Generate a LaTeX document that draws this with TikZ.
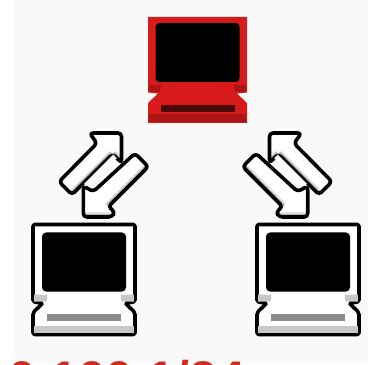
\documentclass[tikz,border=0pt]{standalone}
\usepackage{fontspec}
\setmainfont{Liberation Sans}
\definecolor{pagebg}{HTML}{F9F9F9}
\definecolor{srvred}{HTML}{D71A1A}
\definecolor{srvdark}{HTML}{AD1515}
\definecolor{srvslot}{HTML}{4A0808}
\definecolor{hostshade}{HTML}{C8C8C8}
\definecolor{hostslot}{HTML}{8C8C8C}
\definecolor{arrowshade}{HTML}{B4B4B4}
\definecolor{arrowsoft}{HTML}{E2E2E2}
\definecolor{labelred}{HTML}{D2291C}
\tikzset{
  outline/.style={draw=black,line width=3.6pt,line join=round,rounded corners=2pt},
  plain/.style={rounded corners=0pt},
  screen/.style={fill=black,rounded corners=4pt},
  arrowedge/.style={draw=black,line width=3.6pt,line join=round,rounded corners=3.5pt},
  softband/.style={draw=arrowsoft,line width=9pt},
  hardband/.style={draw=arrowshade,line width=6pt},
}
% #1 fill #2 shade #3 slot #4 style #5 half width #6 height #7 inner y shift
\newcommand{\pcbody}[7]{%
  \path[fill=#1,#4] (-#5,0) -- (#5,0) -- (#5,{-75.5-#7}) -- ({#5-10},{-76.5-#7}) -- (#5,{-86-#7}) -- (#5,-#6) -- (-#5,-#6) -- (-#5,{-86-#7}) -- ({-#5+10},{-76.5-#7}) -- (-#5,{-75.5-#7}) -- cycle;
  \path[fill=#2] ({-#5+1.2},{-#6+9}) rectangle ({#5-1.2},{-#6+1.2});
  \path[fill=#2] ({-#5+1.2},{-68-#7}) -- (-36.5,{-68-#7}) -- (-37.5,{-75-#7}) -- ({-#5+1.2},{-75-#7}) -- cycle;
  \path[fill=#2] ({#5-1.2},{-68-#7}) -- (36.5,{-68-#7}) -- (37.5,{-75-#7}) -- ({#5-1.2},{-75-#7}) -- cycle;
  \path[screen] (-42,{-6-#7}) rectangle (42,{-65-#7});
  \path[fill=#3] (-37,{-88-.5*#7}) rectangle (37,{-95-.5*#7});
}
% arrow pair in pixel coordinates, y downwards
\newcommand{\arrowpair}{%
  % up arrow
  \path[fill=white,rounded corners=3.5pt] (89.5,133) -- (121.5,133) -- (121.5,163) -- (112.7,154) -- (72,194.7) -- (59,181.7) -- (97,143.3) -- cycle;
  \begin{scope}
    \clip (89.5,133) -- (121.5,133) -- (121.5,163) -- (112.7,154) -- (72,194.7) -- (59,181.7) -- (97,143.3) -- cycle;
    \path[softband] (112.7,154) -- (72,194.7);
    \path[hardband] (112.7,154) -- (72,194.7);
    \path[softband] (121.5,163) -- (112.7,154);
    \path[hardband] (121.5,163) -- (112.7,154);
  \end{scope}
  \path[arrowedge] (89.5,133) -- (121.5,133) -- (121.5,163) -- (112.7,154) -- (72,194.7) -- (59,181.7) -- (97,143.3) -- cycle;
  % the up arrow's inner edge is open next to the down arrow
  \path[draw=white,line width=5pt] (115,156.3) -- (86,185.5);
  % down arrow
  \path[fill=white,rounded corners=3.5pt] (83.3,217) -- (83.3,186) -- (93.3,191.7) -- (135,153.3) -- (148.3,166.7) -- (108.3,206.7) -- (115,212) -- (112,217) -- cycle;
  \begin{scope}
    \clip (83.3,217) -- (83.3,186) -- (93.3,191.7) -- (135,153.3) -- (148.3,166.7) -- (108.3,206.7) -- (115,212) -- (112,217) -- cycle;
    \path[softband] (148.3,166.7) -- (108.3,206.7);
    \path[hardband] (148.3,166.7) -- (108.3,206.7);
    \path[softband] (80,217) -- (116,217);
    \path[hardband] (80,217) -- (116,217);
  \end{scope}
  \path[arrowedge] (83.3,217) -- (83.3,186) -- (93.3,191.7) -- (135,153.3) -- (148.3,166.7) -- (108.3,206.7) -- (115,212) -- (112,217) -- cycle;
}
\begin{document}
\begin{tikzpicture}[x=1pt,y=1pt]
\useasboundingbox (0,0) rectangle (377,364);
\path[fill=pagebg] (15,0) rectangle (368,364);
\begin{scope}[shift={(197.5,347)}]
  \pcbody{srvred}{srvdark}{srvslot}{plain}{49.5}{106}{0}
\end{scope}
\begin{scope}[shift={(84,139.5)}]
  \pcbody{white}{hostshade}{hostslot}{outline}{51}{110}{2}
\end{scope}
\begin{scope}[shift={(308,139.5)}]
  \pcbody{white}{hostshade}{hostslot}{outline}{51}{110}{2}
\end{scope}
\begin{scope}[shift={(0,364)},yscale=-1]
  \arrowpair
\end{scope}
\begin{scope}[shift={(391,364)},xscale=-1,yscale=-1]
  \arrowpair
\end{scope}
\node[text=labelred,font=\bfseries\fontsize{50}{50}\selectfont,anchor=base west] (lbl) at (5,-32) {0.100.1/24};
\end{tikzpicture}
\end{document}
